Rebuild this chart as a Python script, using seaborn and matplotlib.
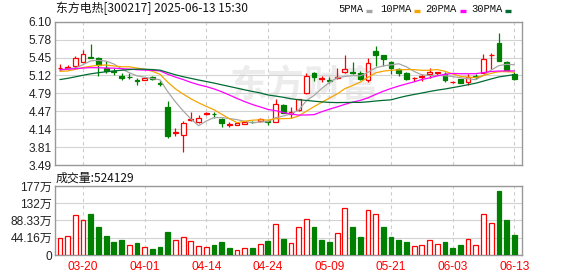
import numpy as np
import pandas as pd
import matplotlib
matplotlib.use("Agg")
import matplotlib.pyplot as plt
from matplotlib.lines import Line2D
import seaborn as sns

# ---------------- data ----------------
dates = ['03-17', '03-18', '03-19', '03-20', '03-21', '03-24', '03-25', '03-26', '03-27', '03-28',
         '03-31', '04-01', '04-02', '04-03', '04-07', '04-08', '04-09', '04-10', '04-11', '04-14',
         '04-15', '04-16', '04-17', '04-18', '04-21', '04-22', '04-23', '04-24', '04-25', '04-28',
         '04-29', '04-30', '05-06', '05-07', '05-08', '05-09', '05-12', '05-13', '05-14', '05-15',
         '05-16', '05-19', '05-20', '05-21', '05-22', '05-23', '05-26', '05-27', '05-28', '05-29',
         '05-30', '06-03', '06-04', '06-05', '06-06', '06-09', '06-10', '06-11', '06-12', '06-13']

open_ = [5.25, 5.26, 5.29, 5.37, 5.46, 5.44, 5.26, 5.21, 5.12, 5.10,
         5.04, 5.03, 5.09, 4.99, 4.55, 4.07, 4.04, 4.31, 4.28, 4.41,
         4.42, 4.33, 4.22, 4.22, 4.24, 4.28, 4.29, 4.29, 4.28, 4.58,
         4.41, 4.49, 4.795, 5.17, 5.06, 5.04, 5.08, 5.18, 5.18, 5.17,
         5.03, 5.57, 5.49, 5.37, 5.24, 5.17, 5.07, 5.09, 5.15, 5.17,
         5.15, 5.00, 5.05, 5.00, 5.11, 5.17, 5.49, 5.72, 5.36, 5.15]
high = [5.33, 5.31, 5.48, 5.59, 5.69, 5.46, 5.38, 5.26, 5.17, 5.16,
        5.07, 5.08, 5.11, 5.04, 4.65, 4.16, 4.29, 4.46, 4.40, 4.45,
        4.45, 4.35, 4.28, 4.27, 4.30, 4.29, 4.34, 4.31, 4.70, 4.61,
        4.55, 4.70, 5.16, 5.19, 5.12, 5.10, 5.25, 5.49, 5.37, 5.21,
        5.43, 5.65, 5.50, 5.39, 5.26, 5.19, 5.09, 5.15, 5.26, 5.19,
        5.18, 5.02, 5.05, 5.14, 5.14, 5.52, 5.53, 5.90, 5.38, 5.18]
low = [5.21, 5.23, 5.26, 5.36, 5.43, 5.12, 5.17, 5.13, 5.04, 5.05,
       4.94, 5.03, 5.04, 4.93, 3.98, 4.02, 3.72, 4.30, 4.25, 4.40,
       4.35, 4.18, 4.19, 4.21, 4.23, 4.26, 4.28, 4.22, 4.27, 4.43,
       4.34, 4.47, 4.78, 5.02, 5.00, 4.98, 5.05, 5.17, 5.15, 5.04,
       5.01, 5.30, 5.30, 5.14, 5.12, 5.04, 5.02, 5.02, 5.08, 5.13,
       5.01, 4.99, 4.98, 4.95, 5.05, 5.16, 5.23, 5.38, 5.20, 5.04]
close = [5.26, 5.27, 5.44, 5.52, 5.44, 5.31, 5.20, 5.18, 5.08, 5.09,
         5.02, 5.07, 5.06, 4.97, 4.01, 4.09, 4.25, 4.33, 4.35, 4.43,
         4.41, 4.25, 4.24, 4.25, 4.28, 4.27, 4.33, 4.27, 4.60, 4.44,
         4.46, 4.685, 5.11, 5.09, 5.075, 5.02, 5.09, 5.24, 5.16, 5.06,
         5.34, 5.50, 5.42, 5.25, 5.16, 5.06, 5.08, 5.11, 5.18, 5.18,
         5.03, 5.01, 4.99, 5.09, 5.10, 5.42, 5.50, 5.39, 5.21, 5.06]
# closes of the 29 sessions before 03-17, estimated from where the MA lines start
prior_close = [4.60, 4.62, 4.65, 4.66, 4.70, 4.68, 4.72, 4.71, 4.73, 4.79,
               5.10, 5.25, 5.30, 5.28, 5.35, 5.30, 5.22, 5.26, 5.24, 5.26,
               5.20, 5.15, 5.18, 5.22, 5.14, 5.14, 5.355, 5.22, 5.095]
# volume in 万
volume = [42.7, 48.6, 102.4, 89.6, 105.8, 71.7, 48.6, 33.3, 38.4, 24.7,
          31.6, 19.6, 15.4, 20.5, 58.9, 37.5, 45.2, 35.0, 22.2, 20.5,
          25.6, 33.3, 17.9, 11.9, 17.1, 17.9, 28.2, 35.8, 79.4, 41.0,
          29.9, 70.8, 91.3, 70.8, 38.4, 33.3, 55.5, 119.5, 71.7, 46.1,
          114.3, 105.0, 71.7, 46.1, 38.4, 33.3, 22.2, 24.7, 37.5, 28.2,
          33.3, 17.9, 25.6, 40.1, 24.7, 105.0, 81.9, 163.8, 89.6, 52.41]

ma_windows = [5, 10, 20, 30]
ma_names = ['5PMA', '10PMA', '20PMA', '30PMA']
ma_colors = ['#a6a6a6', '#f5a500', '#ff00ff', '#006b33']

price_ticks = ['3.49', '3.81', '4.14', '4.47', '4.79', '5.12', '5.45', '5.78', '6.10']
vol_tick_labels = ['0', '44.16万', '88.33万', '132万', '177万']
vol_tick_values = [0, 44.16, 88.33, 132.48, 176.64]
xtick_dates = ['03-20', '04-01', '04-14', '04-24', '05-09', '05-21', '06-03', '06-13']

title = '东方电热[300217] 2025-06-13 15:30'
vol_label = '成交量:524129'

# ---------------- style ----------------
sns.set_theme(style="white")
plt.rcParams['font.family'] = ['Liberation Sans', 'Noto Sans CJK SC', 'DejaVu Sans']
CJK = ['Noto Sans CJK SC', 'DejaVu Sans']
RED = '#ff0000'
GREEN = '#008000'
GRID = '#d3d3d3'
SPINE = '#999999'

W, H = 578, 276
fig = plt.figure(figsize=(W / 100, H / 100), dpi=100)
fig.patch.set_facecolor('white')


def fx(px):
    return px / W


def fy(py):
    return 1 - py / H


L, R = 55.3, 522.0
ax = fig.add_axes([fx(L), fy(165), fx(R) - fx(L), fy(21.7) - fy(165)])
axv = fig.add_axes([fx(L), fy(255), fx(R) - fx(L), fy(186) - fy(255)])

n = len(dates)
x = np.arange(n)
o = np.array(open_)
h = np.array(high)
lo = np.array(low)
c = np.array(close)
up = c >= o

# moving averages
full = pd.Series(prior_close + close)
ma_df = pd.DataFrame({'x': x})
for w, name in zip(ma_windows, ma_names):
    ma_df[name] = full.rolling(w).mean().to_numpy()[-n:]

# watermark
ax.text(0.535, 0.55, '东方财富', transform=ax.transAxes, ha='center', va='center',
        fontsize=27, fontweight='bold', color='#ececec', family=CJK, zorder=0.1)

# candles
col = np.where(up, RED, GREEN)
ax.vlines(x, lo, h, colors=col, linewidth=0.9, zorder=2)
body_h = np.maximum(np.abs(c - o), 0.004)
ax.bar(x, body_h, bottom=np.minimum(o, c), width=0.62,
       color=np.where(up, 'white', GREEN), edgecolor=col, linewidth=0.9, zorder=3)

# MA lines
for name, colr in zip(ma_names, ma_colors):
    sns.lineplot(data=ma_df, x='x', y=name, ax=ax, color=colr, linewidth=0.9,
                 legend=False, zorder=4)

# volume: colour by close vs previous close
prev = np.concatenate([[prior_close[-1]], c[:-1]])
vup = c >= prev
vcol = np.where(vup, RED, GREEN)
axv.bar(x, volume, width=0.62, color=np.where(vup, 'white', GREEN),
        edgecolor=vcol, linewidth=0.9, zorder=3)

# axes styling
tick_idx = [dates.index(d) for d in xtick_dates]
pvals = np.linspace(3.49, 6.10, len(price_ticks))
for a in (ax, axv):
    a.set_xlim(-0.6, n)
    a.set_xticks(tick_idx)
    a.set_axisbelow(True)
    a.grid(axis='y', color=GRID, linewidth=0.8, linestyle='-')
    a.grid(axis='x', color='#cccccc', linewidth=0.8, linestyle=(0, (3, 3)))
    for s in a.spines.values():
        s.set_color(SPINE)
        s.set_linewidth(1.0)
    a.tick_params(length=0, pad=2.4, labelsize=8.6, colors='#222222')
    a.set_xlabel('')
    a.set_ylabel('')
    a.set_facecolor('white')

ax.set_ylim(3.49, 6.10)
ax.set_yticks(pvals)
ax.set_yticklabels(price_ticks)
ax.set_xticklabels([])

axv.set_ylim(0, 176.64)
axv.set_yticks(vol_tick_values)
axv.set_yticklabels(vol_tick_labels)
axv.set_xticklabels(xtick_dates, color=RED)
axv.tick_params(axis='x', pad=4.6, colors=RED)

# title and legend
fig.text(fx(56), fy(8.6), title, fontsize=8.6, family=CJK, ha='left', va='center',
         color='#111111')
fig.text(fx(56), fy(178), vol_label, fontsize=8.6, family=CJK, ha='left', va='center',
         color='#111111')

leg_x = [338, 380.3, 425.7, 471.3]
for name, colr, lx in zip(ma_names, ma_colors, leg_x):
    fig.text(fx(lx), fy(9.2), name, fontsize=7.6, family=['Liberation Mono'],
             ha='left', va='center', color='#111111')
    dx = lx + len(name) * 6.3 + 2.5
    fig.add_artist(Line2D([fx(dx), fx(dx + 6)], [fy(10.5), fy(10.5)],
                          color=colr, linewidth=2.4, solid_capstyle='butt'))

fig.savefig('out.png', dpi=100, facecolor='white')
